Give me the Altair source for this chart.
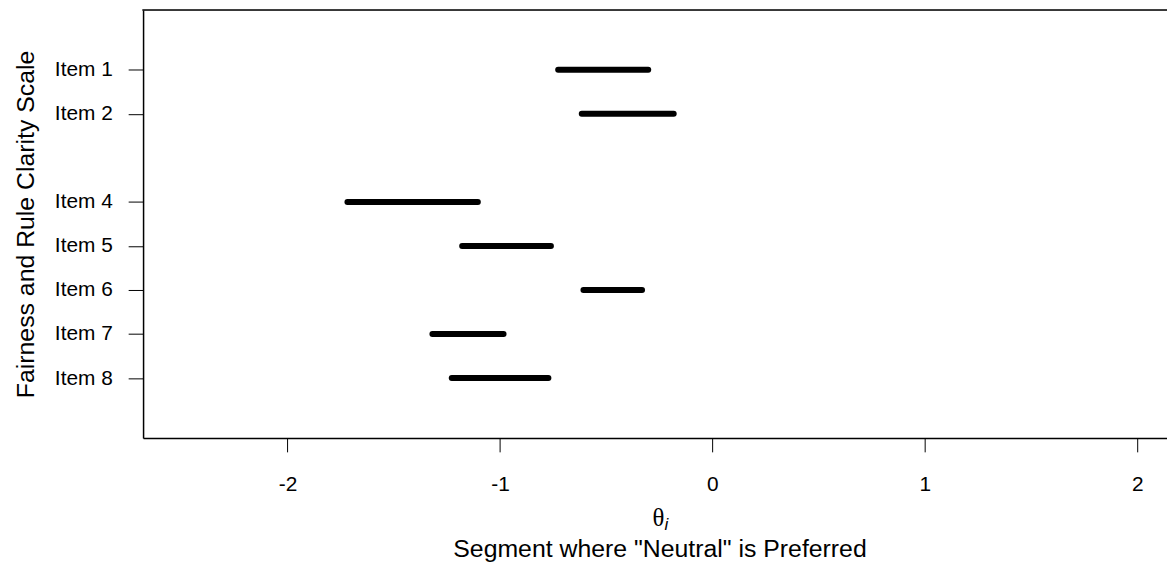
import altair as alt
import pandas as pd

# Data
item_labels = ["Item 1", "Item 2", "Item 4", "Item 5", "Item 6", "Item 7", "Item 8"]
item_pos = [1, 2, 4, 5, 6, 7, 8]
seg_start = [-0.726, -0.615, -1.718, -1.178, -0.607, -1.318, -1.227]
seg_end = [-0.302, -0.182, -1.104, -0.760, -0.331, -0.983, -0.772]
x_ticks = [-2, -1, 0, 1, 2]
x_tick_labels = ["-2", "-1", "0", "1", "2"]

df = pd.DataFrame({"item": item_labels, "pos": item_pos, "lo": seg_start, "hi": seg_end})

W, H = 1031, 431
FONT = "Liberation Sans"
FS = 21
TFS = 25


def label_expr(values, labels):
    expr = "''"
    for v, l in zip(reversed(values), reversed(labels)):
        expr = f"datum.value == {v} ? '{l}' : ({expr})"
    return expr


xscale = alt.Scale(domain=[-2.68, 2.14], nice=False, zero=False)
yscale = alt.Scale(domain=[-0.36, 9.36], nice=False, zero=False, reverse=True)

xaxis = alt.Axis(
    values=x_ticks,
    labelExpr=label_expr(x_ticks, x_tick_labels),
    grid=False,
    domainColor="black",
    domainWidth=1.5,
    tickColor="black",
    tickWidth=1,
    tickSize=14,
    labelPadding=22,
    labelFont=FONT,
    labelFontSize=FS,
    labelColor="black",
    labelBaseline="top",
    title='Segment where "Neutral" is Preferred',
    titleFont=FONT,
    titleFontSize=TFS,
    titleFontWeight="normal",
    titleColor="black",
    titleX=520,
    titleY=119,
    titleAlign="center",
    titleBaseline="alphabetic",
)

yaxis = alt.Axis(
    values=item_pos,
    labelExpr=label_expr(item_pos, item_labels),
    grid=False,
    domainColor="black",
    domainWidth=1.5,
    tickColor="black",
    tickWidth=1,
    tickSize=15,
    labelPadding=16,
    labelFont=FONT,
    labelFontSize=FS,
    labelColor="black",
    labelAlign="right",
    labelBaseline="middle",
    title="Fairness and Rule Clarity Scale",
    titleFont=FONT,
    titleFontSize=TFS,
    titleFontWeight="normal",
    titleColor="black",
    titleAngle=270,
    titleX=-118,
    titleY=215.5,
    titleAlign="center",
    titleBaseline="middle",
)

segments = alt.Chart(df).mark_rule(
    color="black", strokeWidth=6, strokeCap="round"
).encode(
    x=alt.X("lo:Q", scale=xscale, axis=xaxis),
    x2="hi:Q",
    y=alt.Y("pos:Q", scale=yscale, axis=yaxis),
)

top_border = alt.Chart(pd.DataFrame({"a": [0]})).mark_rule(
    color="black", strokeWidth=1.5
).encode(x=alt.value(-0.75), x2=alt.value(W + 10), y=alt.value(0))

theta = alt.Chart(pd.DataFrame({"t": ["θ"]})).mark_text(
    font="Liberation Serif", fontSize=TFS, color="black", align="left", baseline="alphabetic"
).encode(text="t:N", x=alt.value(513), y=alt.value(520))

sub_i = alt.Chart(pd.DataFrame({"t": ["i"]})).mark_text(
    font=FONT, fontSize=17, fontStyle="italic", color="black", align="left", baseline="alphabetic"
).encode(text="t:N", x=alt.value(525), y=alt.value(524))

chart = alt.layer(segments, top_border, theta, sub_i).properties(
    width=W,
    height=H,
    autosize=alt.AutoSizeParams(type="none"),
    padding={"left": 136, "top": 0, "right": 0, "bottom": 127},
).configure_view(stroke=None).configure(background="white")

chart.save("out.html", embed_options={"renderer": "svg", "actions": False})
